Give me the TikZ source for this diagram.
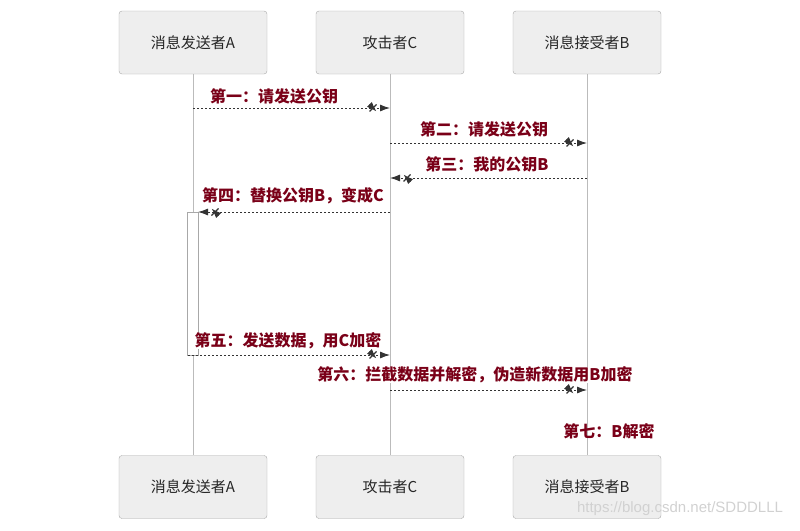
\documentclass[tikz,border=0pt]{standalone}
\usepackage{fontspec}
\setmainfont{Noto Sans CJK SC}
\newfontfamily\wmfont{Liberation Sans}
\usetikzlibrary{arrows.meta,decorations.markings}
\definecolor{boxfill}{HTML}{EEEEEE}
\definecolor{boxline}{HTML}{A8A8A8}
\definecolor{lifeline}{HTML}{BBBBBB}
\definecolor{msgcol}{HTML}{333333}
\definecolor{lblcol}{HTML}{7A0018}
\tikzset{
  actor/.style={draw=boxline, fill=boxfill, rounded corners=3pt, minimum width=148pt, minimum height=63pt, inner sep=0pt, font=\fontsize{15pt}{17pt}\selectfont, text=black!85},
  lifel/.style={draw=lifeline, line width=0.8pt},
  xmsg/.style={draw=msgcol, line width=0.9pt, dash pattern=on 2pt off 2pt,
    -{Latex[length=10pt,width=7pt]},
    postaction={decorate, decoration={markings, mark=at position -17pt with {\draw[solid, line width=1.1pt, msgcol] (-3.5pt,-3.5pt)--(3.5pt,3.5pt) (-3.5pt,3.5pt)--(3.5pt,-3.5pt);}}}},
  lbl/.style={font=\fontsize{16pt}{18pt}\selectfont\bfseries, text=lblcol, inner sep=0pt, fill=white, inner xsep=1pt}
}
\begin{document}
\begin{tikzpicture}[x=1pt,y=-1pt]
\useasboundingbox (0,0) rectangle (800,530);
% actors
\node[actor] (At) at (193,42.5) {消息发送者A};
\node[actor] (Ct) at (390,42.5) {攻击者C};
\node[actor] (Bt) at (587,42.5) {消息接受者B};
\node[actor] (Ab) at (193,487) {消息发送者A};
\node[actor] (Cb) at (390,487) {攻击者C};
\node[actor] (Bb) at (587,487) {消息接受者B};
% lifelines
\draw[lifel] (At.south) -- (Ab.north);
\draw[lifel] (Ct.south) -- (Cb.north);
\draw[lifel] (Bt.south) -- (Bb.north);
% activation bar
\node[draw=boxline, fill=white, line width=0.8pt, minimum width=11pt, minimum height=143pt, inner sep=0pt, anchor=north] (act) at (192.5,212) {};
% message endpoints
\coordinate (a1) at (193,108); \coordinate (c1) at (390,108);
\coordinate (c2) at (390,143); \coordinate (b2) at (587,143);
\coordinate (b3) at (587,178); \coordinate (c3) at (390,178);
\coordinate (c4) at (390,212); \coordinate (a4) at (198,212);
\coordinate (a5) at (188,355); \coordinate (c5) at (390,355);
\coordinate (c6) at (390,390); \coordinate (b6) at (587,390);
% messages
\draw[xmsg] (a1) -- (c1);
\draw[xmsg] (c2) -- (b2);
\draw[xmsg] (b3) -- (c3);
\draw[xmsg] (c4) -- (a4);
\draw[xmsg] (a5) -- (c5);
\draw[xmsg] (c6) -- (b6);
% labels
\node[lbl] (l1) at (274,96) {第一：请发送公钥};
\node[lbl] (l2) at (484,129) {第二：请发送公钥};
\node[lbl] (l3) at (487,164) {第三：我的公钥B};
\node[lbl] (l4) at (293,196) {第四：替换公钥B，变成C};
\node[lbl] (l5) at (288,341) {第五：发送数据，用C加密};
\node[lbl] (l6) at (475,375) {第六：拦截数据并解密，伪造新数据用B加密};
\node[lbl, fill=none] (l7) at (609,431) {第七：B解密};
% watermark
\node[font=\wmfont\fontsize{15pt}{17pt}\selectfont, text=black!18, inner sep=0pt] (wm) at (680,509) {https://blog.csdn.net/SDDDLLL};
\end{tikzpicture}
\end{document}
